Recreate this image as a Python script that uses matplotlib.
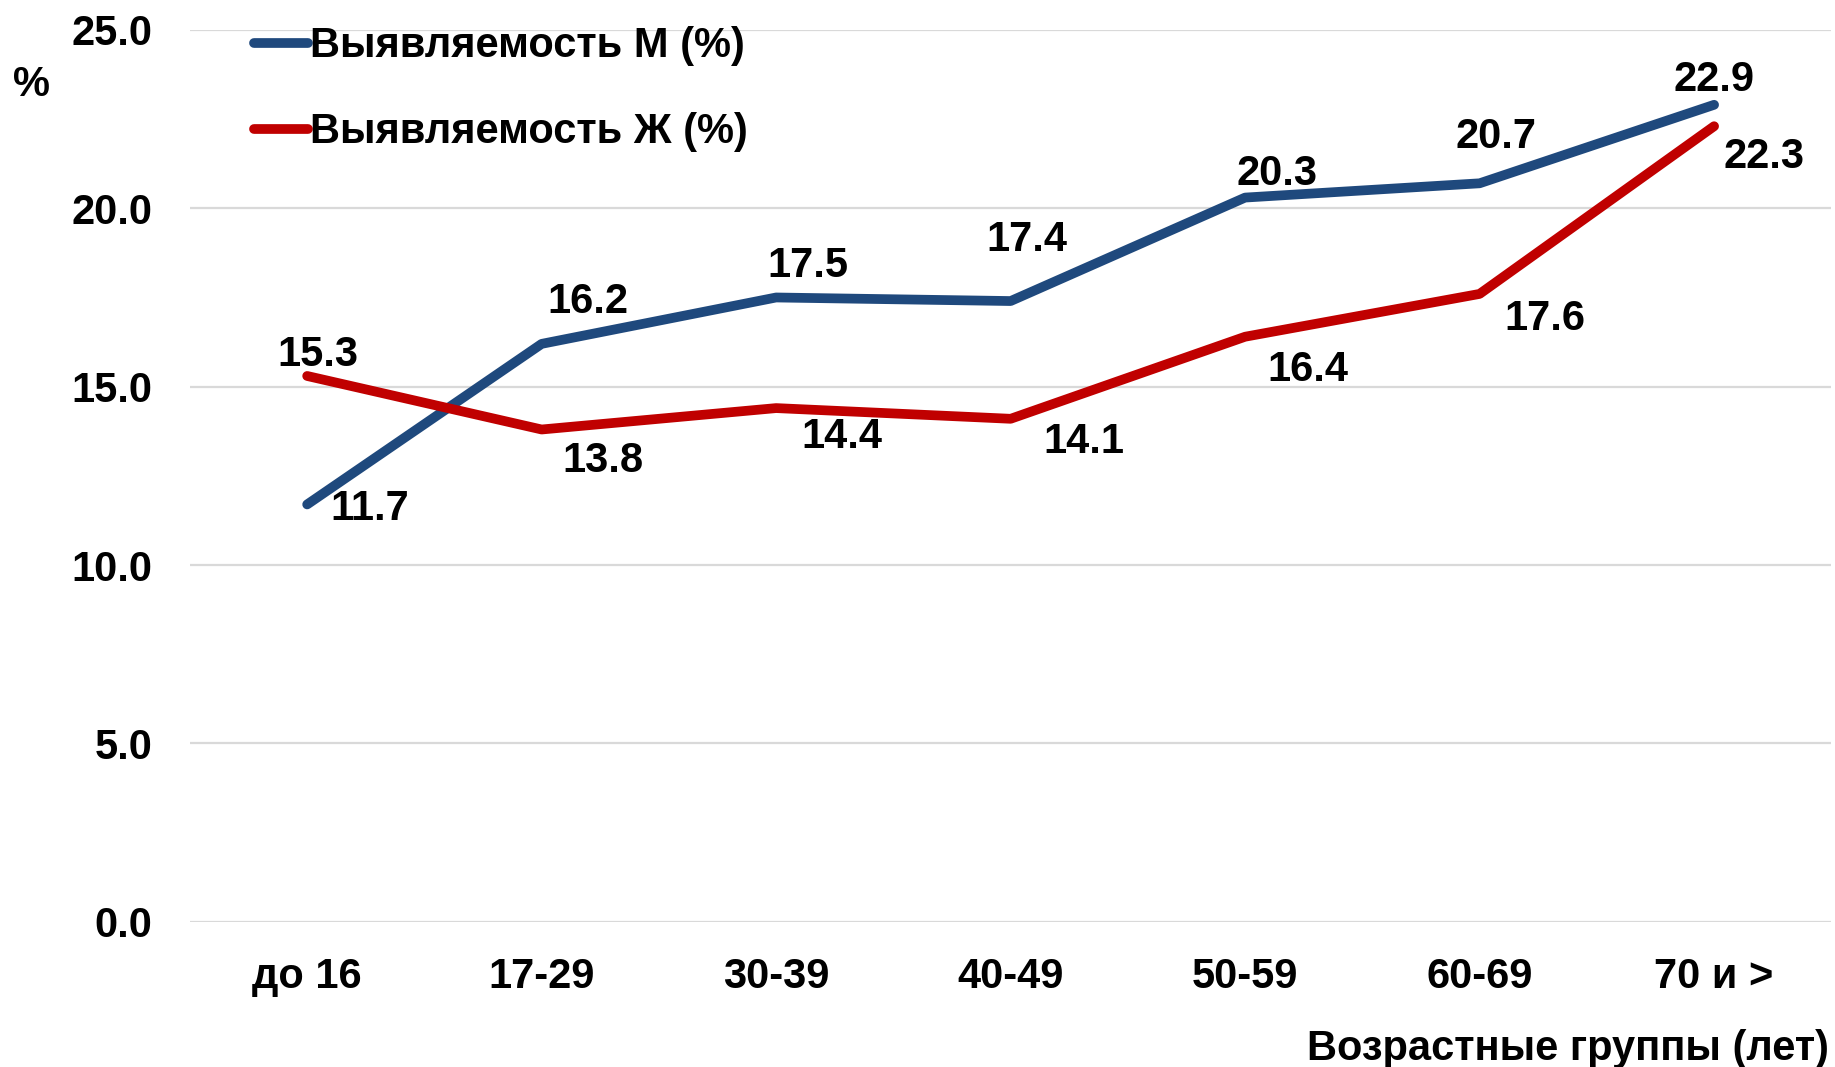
import matplotlib
matplotlib.use("Agg")
import matplotlib.pyplot as plt

# age groups and detection rates
groups = ['до 16', '17-29', '30-39', '40-49', '50-59', '60-69', '70 и >']
men = [11.7, 16.2, 17.5, 17.4, 20.3, 20.7, 22.9]
women = [15.3, 13.8, 14.4, 14.1, 16.4, 17.6, 22.3]
yticks = [0.0, 5.0, 10.0, 15.0, 20.0, 25.0]

# label offsets (points) next to each point
men_offsets = [(45, -3), (33, 30), (23, 23), (12, 44), (23, 17), (12, 33), (0, 18)]
women_offsets = [(8, 15), (44, -23), (47, -21), (53, -17), (45, -24), (47, -18), (36, -22)]

plt.rcParams['font.family'] = ['Liberation Sans', 'DejaVu Sans']
plt.rcParams['font.weight'] = 'bold'

blue = '#1F497D'
red = '#C00000'
fs = 30

fig = plt.figure(figsize=(18.35, 10.67), dpi=100)
ax = fig.add_axes([0.1035, 0.136, 0.8945, 0.836])

x = list(range(len(groups)))
ax.plot(x, men, color=blue, lw=7, solid_capstyle='round', label='Выявляемость М (%)', zorder=3)
ax.plot(x, women, color=red, lw=7, solid_capstyle='round', label='Выявляемость Ж (%)', zorder=3)

for xi, v, off in zip(x, men, men_offsets):
    ax.annotate(f'{v:.1f}', (xi, v), xytext=off, textcoords='offset points',
                ha='center', va='center', fontsize=fs, fontweight='bold')
for xi, v, off in zip(x, women, women_offsets):
    ax.annotate(f'{v:.1f}', (xi, v), xytext=off, textcoords='offset points',
                ha='center', va='center', fontsize=fs, fontweight='bold')

ax.set_xlim(-0.5, len(groups) - 0.5)
ax.set_ylim(0, 25)
ax.set_yticks(yticks)
ax.set_yticklabels([f'{t:.1f}' for t in yticks])
ax.set_xticks(x)
ax.set_xticklabels(groups)
ax.tick_params(axis='both', length=0, labelsize=fs)
ax.tick_params(axis='y', pad=27)
ax.tick_params(axis='x', pad=25)
ax.grid(axis='y', color='#D9D9D9', lw=1.6)
ax.set_axisbelow(True)
for s in ax.spines.values():
    s.set_visible(False)

leg = ax.legend(loc='upper left', bbox_to_anchor=(0.016, 1.046), frameon=False,
                fontsize=fs, handlelength=1.3, handletextpad=0.05, labelspacing=1.1)

fig.text(0.017, 0.92, '%', fontsize=fs, fontweight='bold', ha='center', va='center')
fig.text(0.997, 0.017, 'Возрастные группы (лет)', fontsize=fs, fontweight='bold',
         ha='right', va='center')

fig.savefig('out.png', dpi=100)
